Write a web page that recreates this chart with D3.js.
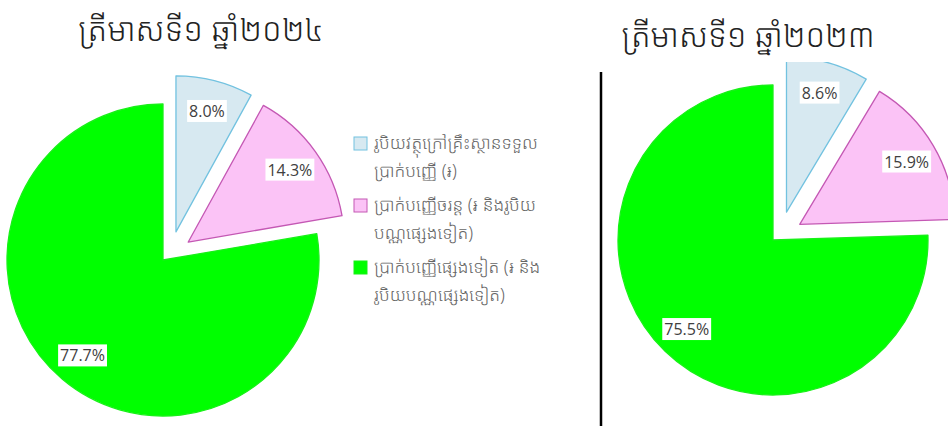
<!DOCTYPE html>
<html>
<head>
<meta charset="utf-8">
<script src="https://cdn.jsdelivr.net/npm/d3@7"></script>
<style>
  html, body { margin: 0; padding: 0; background: #fff; }
</style>
</head>
<body>
<div id="chart"></div>
<script>
// Data
const titles = ["ត្រីមាសទី១ ឆ្នាំ២០២៤", "ត្រីមាសទី១ ឆ្នាំ២០២៣"];
const categories = ["outside", "current", "other"];
const legendLines = [
    ["រូបិយវត្ថុក្រៅគ្រឹះស្ថានទទួល", "ប្រាក់បញ្ញើ (៛)"],
    ["ប្រាក់បញ្ញើចរន្ត (៛ និងរូបិយ", "បណ្ណផ្សេងទៀត)"],
    ["ប្រាក់បញ្ញើផ្សេងទៀត (៛ និង", "រូបិយបណ្ណផ្សេងទៀត)"]
];
const values2024 = [8.0, 14.3, 77.7];
const values2023 = [8.6, 15.9, 75.5];

const width = 948, height = 426;
const khmerFont = "'Noto Sans Khmer', 'Khmer OS', 'Khmer OS System', 'Noto Serif Khmer', sans-serif";
const numFont = "'Open Sans', 'Liberation Sans', sans-serif";

const fills = d3.scaleOrdinal().domain(categories).range(["#d7e9f1", "#fbc3f6", "#00ff00"]);
const strokes = d3.scaleOrdinal().domain(categories).range(["#72c2e0", "#c458b4", "#18f018"]);
const exploded = d3.scaleOrdinal().domain(categories).range([31, 31, 0]);

const svg = d3.select("#chart").append("svg")
    .attr("width", width)
    .attr("height", height)
    .style("display", "block");

const defs = svg.append("defs");
defs.append("clipPath").attr("id", "clipRight")
    .append("rect").attr("x", 603).attr("y", 62).attr("width", 345).attr("height", 364);

const pie = d3.pie().sort(null).value(d => d.value);

function drawPie(values, cx, cy, r, clip) {
    const data = categories.map((c, i) => ({ key: c, value: values[i] }));
    const arcs = pie(data);
    const arc = d3.arc().innerRadius(0).outerRadius(r);
    const labelArc = d3.arc().innerRadius(r * 0.8).outerRadius(r * 0.8);

    const g = svg.append("g");
    if (clip) g.attr("clip-path", `url(#${clip})`);
    const pg = g.append("g").attr("transform", `translate(${cx},${cy})`);

    const slices = pg.selectAll("g.slice")
        .data(arcs)
        .join("g")
        .attr("class", "slice")
        .attr("transform", d => {
            // push the first slice a bit more clockwise than its mid angle
            const mid = (d.startAngle + d.endAngle) / 2 + (d.data.key === "outside" ? 0.18 : 0);
            const off = exploded(d.data.key);
            return `translate(${off * Math.sin(mid)},${-off * Math.cos(mid)})`;
        });

    slices.append("path")
        .attr("d", arc)
        .attr("fill", d => fills(d.data.key))
        .attr("stroke", d => strokes(d.data.key))
        .attr("stroke-width", 1.3)
        .attr("stroke-linejoin", "round");

    // Label boxes
    slices.each(function(d) {
        const [lx, ly] = labelArc.centroid(d);
        const sel = d3.select(this);
        const t = sel.append("text")
            .attr("x", lx)
            .attr("y", ly)
            .attr("text-anchor", "middle")
            .attr("dominant-baseline", "central")
            .style("font-family", numFont)
            .style("font-size", "16px")
            .style("fill", "#404040")
            .text(d.data.value.toFixed(1) + "%");
        const bb = t.node().getBBox();
        sel.insert("rect", "text")
            .attr("x", bb.x - 2)
            .attr("y", bb.y)
            .attr("width", bb.width + 4)
            .attr("height", bb.height)
            .attr("fill", "#fff");
    });
}

drawPie(values2024, 163, 260, 156, null);
drawPie(values2023, 773, 240, 155, "clipRight");

// Titles
svg.append("text")
    .attr("x", 201).attr("y", 41)
    .attr("text-anchor", "middle")
    .style("font-family", khmerFont)
    .style("font-size", "32px")
    .style("font-weight", 300)
    .style("fill", "#222")
    .text(titles[0]);

svg.append("text")
    .attr("x", 748).attr("y", 47)
    .attr("text-anchor", "middle")
    .style("font-family", khmerFont)
    .style("font-size", "32px")
    .style("font-weight", 300)
    .style("fill", "#222")
    .text(titles[1]);

// Divider
svg.append("line")
    .attr("x1", 601).attr("x2", 601)
    .attr("y1", 72).attr("y2", height)
    .attr("stroke", "#000")
    .attr("stroke-width", 2.5);

// Legend
const legend = svg.append("g").attr("transform", "translate(354,137)");
const item = legend.selectAll("g")
    .data(categories)
    .join("g")
    .attr("transform", (d, i) => `translate(0,${i * 62})`);

item.append("rect")
    .attr("width", 13).attr("height", 13)
    .attr("fill", d => fills(d))
    .attr("stroke", d => strokes(d))
    .attr("stroke-width", 1);

item.each(function(d, i) {
    const sel = d3.select(this);
    legendLines[i].forEach((line, j) => {
        sel.append("text")
            .attr("x", 20)
            .attr("y", 12 + j * 28)
            .style("font-family", khmerFont)
            .style("font-size", "17.5px")
            .style("font-weight", 300)
            .style("fill", "#666")
            .text(line);
    });
});
</script>
</body>
</html>
